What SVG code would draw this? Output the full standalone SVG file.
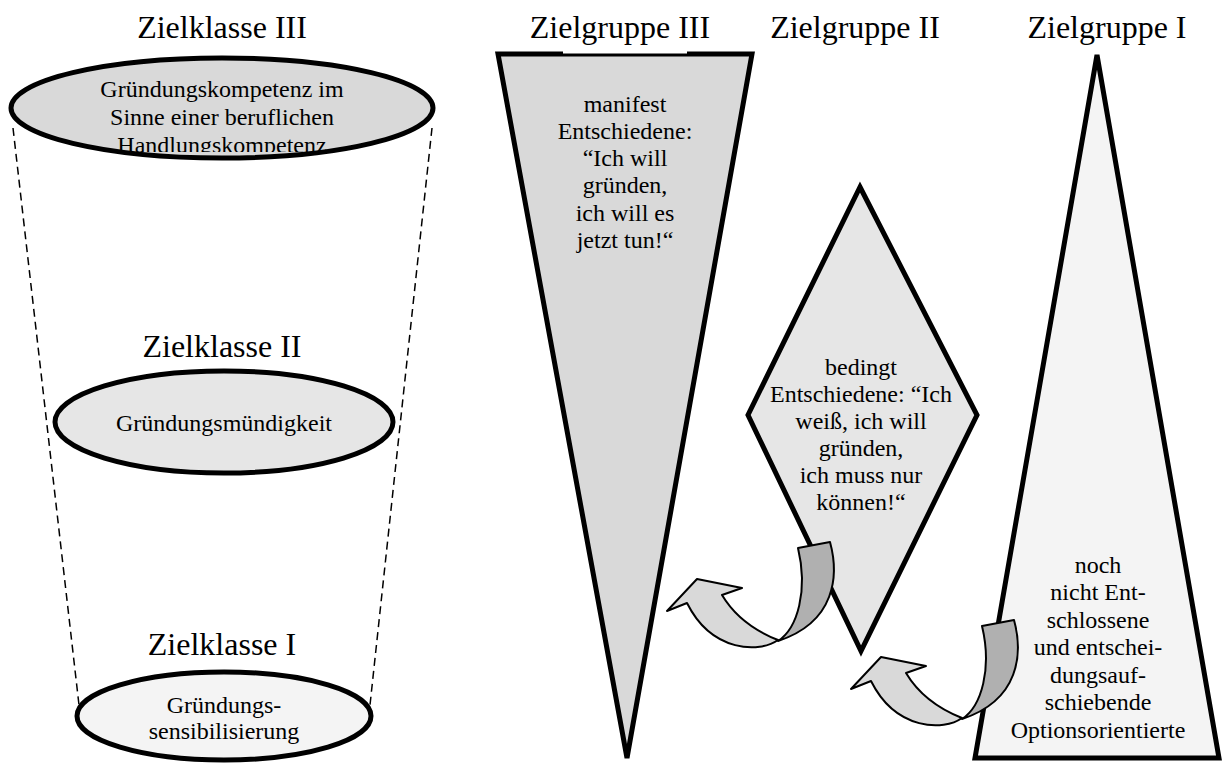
<svg xmlns="http://www.w3.org/2000/svg" width="1222" height="765" viewBox="0 0 1222 765">
<style>
.t{font-family:"Liberation Serif","Times New Roman",serif;fill:#000;text-anchor:middle}
.title{font-size:32px}
.lbl{font-size:24px}
.shape{stroke:#000;stroke-width:5;stroke-linejoin:miter}
.dash{stroke:#000;stroke-width:1.5;stroke-dasharray:8 5;fill:none}
.light{fill:#d9d9d9;stroke:#000;stroke-width:2;stroke-linejoin:round}
.dark{fill:#b0b0b0;stroke:#000;stroke-width:2;stroke-linejoin:round}
</style>
<defs>
<clipPath id="c1"><rect x="0" y="0" width="450" height="152"/></clipPath>
<g id="arrow">
<path class="light" d="M667,611 L697,579 L742,588 L722,595 Q740,625 778,640 C760,653 712,653 687,603 Z"/>
<path class="dark" d="M798,548 L830,542 C839,575 836,622 778,641 C798,628 808,590 798,548 Z"/>
</g>
</defs>
<rect width="1222" height="765" fill="#fff"/>
<g id="connectors">
<line class="dash" x1="13" y1="128" x2="79" y2="705"/>
<line class="dash" x1="432" y1="128" x2="370" y2="705"/>
</g>
<g id="zielklasse3">
<text class="t title" x="222" y="38">Zielklasse III</text>
<ellipse class="shape" cx="222" cy="108" rx="211" ry="50" fill="#d9d9d9"/>
<g clip-path="url(#c1)">
<text class="t lbl" x="222" y="97">Gründungskompetenz im</text>
<text class="t lbl" x="222" y="125">Sinne einer beruflichen</text>
<text class="t lbl" x="222" y="153">Handlungskompetenz</text>
</g>
</g>
<g id="zielklasse2">
<text class="t title" x="222" y="357">Zielklasse II</text>
<ellipse class="shape" cx="224" cy="422" rx="169" ry="51" fill="#e6e6e6"/>
<text class="t lbl" x="224" y="431">Gründungsmündigkeit</text>
</g>
<g id="zielklasse1">
<text class="t title" x="222" y="655">Zielklasse I</text>
<ellipse class="shape" cx="224" cy="716" rx="147" ry="44" fill="#f4f4f4"/>
<text class="t lbl" x="224" y="713">Gründungs-</text>
<text class="t lbl" x="224" y="739">sensibilisierung</text>
</g>
<g id="zielgruppe3">
<text class="t title" x="620" y="38">Zielgruppe III</text>
<polygon class="shape" points="498,54 752,54 627,758" fill="#d9d9d9"/>
<rect x="563" y="50" width="124" height="3.5" fill="#fff"/>
<text class="t lbl" x="625" y="112">manifest</text>
<text class="t lbl" x="625" y="139">Entschiedene:</text>
<text class="t lbl" x="625" y="166">“Ich will</text>
<text class="t lbl" x="625" y="193">gründen,</text>
<text class="t lbl" x="625" y="221">ich will es</text>
<text class="t lbl" x="625" y="248">jetzt tun!“</text>
</g>
<g id="zielgruppe2">
<text class="t title" x="855" y="38">Zielgruppe II</text>
<polygon class="shape" points="860,187 977,415 861,651 748,415" fill="#e6e6e6"/>
<text class="t lbl" x="861" y="375">bedingt</text>
<text class="t lbl" x="861" y="402">Entschiedene: “Ich</text>
<text class="t lbl" x="861" y="429">weiß, ich will</text>
<text class="t lbl" x="861" y="456">gründen,</text>
<text class="t lbl" x="861" y="483">ich muss nur</text>
<text class="t lbl" x="861" y="510">können!“</text>
</g>
<g id="zielgruppe1">
<text class="t title" x="1107" y="38">Zielgruppe I</text>
<polygon class="shape" points="1097,55 1219,758 975,758" fill="#f4f4f4"/>
<text class="t lbl" x="1098" y="573">noch</text>
<text class="t lbl" x="1098" y="600">nicht Ent-</text>
<text class="t lbl" x="1098" y="628">schlossene</text>
<text class="t lbl" x="1098" y="655">und entschei-</text>
<text class="t lbl" x="1098" y="683">dungsauf-</text>
<text class="t lbl" x="1098" y="710">schiebende</text>
<text class="t lbl" x="1098" y="738">Optionsorientierte</text>
</g>
<g id="arrows">
<use href="#arrow"/>
<use href="#arrow" transform="translate(184,78)"/>
</g>
</svg>
